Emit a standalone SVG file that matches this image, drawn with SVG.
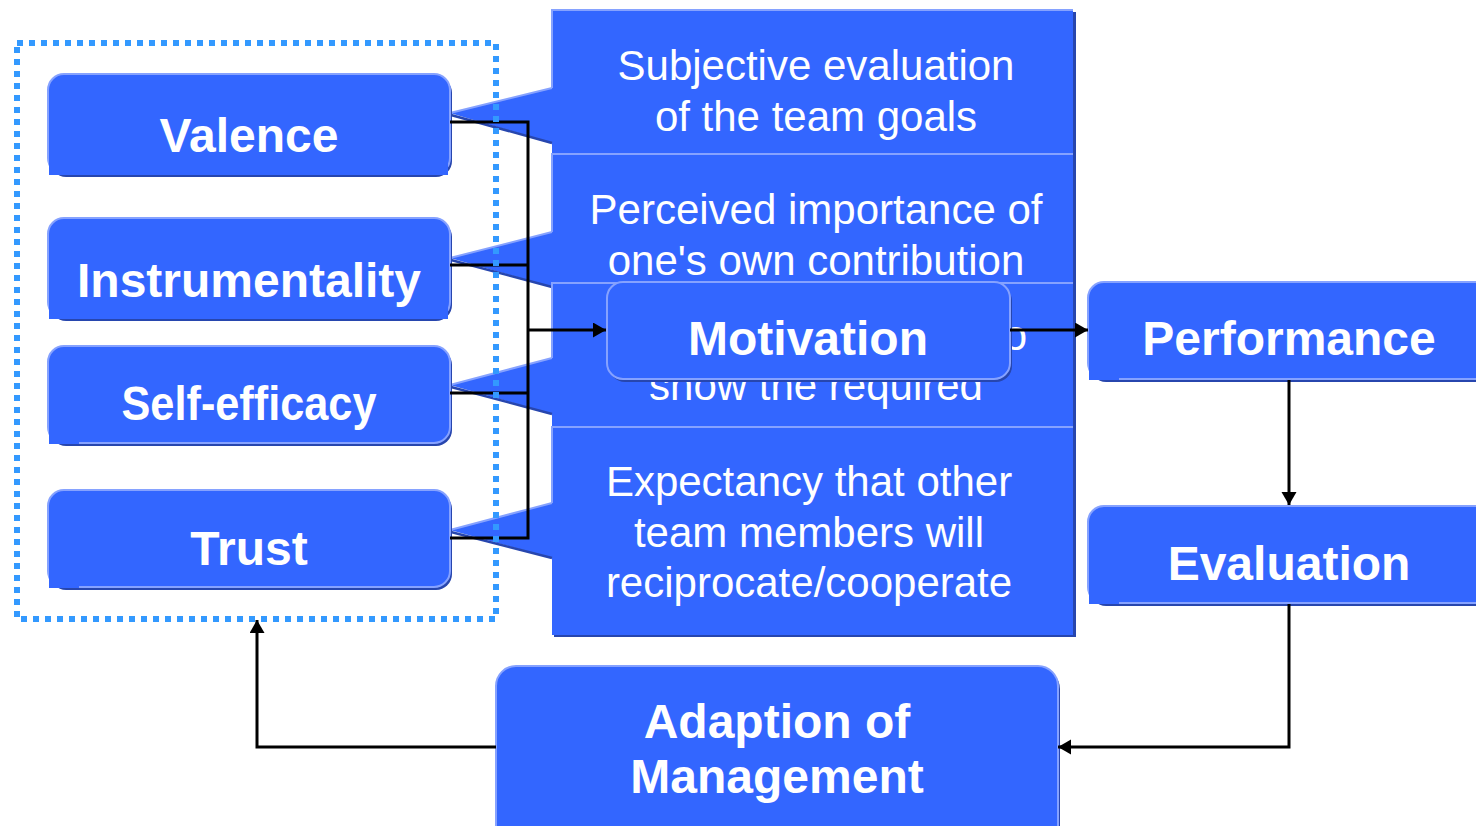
<svg xmlns="http://www.w3.org/2000/svg" width="1476" height="826" viewBox="0 0 1476 826">
<defs>
<style>
.box{fill:#3366ff;stroke:#86a2ff;stroke-width:2}
.sh{fill:#2746ae}
.patch{fill:#3366ff}
.lbl{font-family:"Liberation Sans",Arial,sans-serif;font-weight:bold;font-size:48px;fill:#fff;text-anchor:middle}
.ct{font-family:"Liberation Sans",Arial,sans-serif;font-size:42px;fill:#fff;text-anchor:middle}
.conn{stroke:#000;stroke-width:3;fill:none}
.lt{stroke:#86a2ff;stroke-width:2;fill:none}
.dk{stroke:#2746ae;stroke-width:2.5;fill:none}
.cbody{fill:#3366ff}
.dots{fill:none;stroke:#3399ff;stroke-width:6;stroke-dasharray:6 6}
</style>
<marker id="ah" markerUnits="userSpaceOnUse" markerWidth="14" markerHeight="16" refX="13" refY="7.5" orient="auto">
<path d="M0,0 L13,7.5 L0,15 Z" fill="#000"/>
</marker>
</defs>
<rect width="1476" height="826" fill="#fff"/>

<g id="callout-1">
<path class="sh" d="M554,12 H1076 V221 H554 Z"/>
<path class="cbody" d="M552,10 H1073 V219 H552 V143 L450,113 L552,88 Z"/>
<path class="lt" d="M552,88 L450,113 M552,88 V10 H1073"/>
<path class="dk" d="M451,115 L552,143"/>
<text class="ct" x="816" y="80">Subjective evaluation</text>
<text class="ct" x="816" y="131">of the team goals</text>
</g>
<g id="callout-2">
<path class="sh" d="M554,155 H1076 V364 H554 Z"/>
<path class="cbody" d="M552,153 H1073 V362 H552 V287 L450,258 L552,232 Z"/>
<path class="lt" d="M552,232 L450,258 M552,232 V154 H1073"/>
<path class="dk" d="M451,260 L552,287"/>
<text class="ct" x="816" y="224">Perceived importance of</text>
<text class="ct" x="816" y="275">one's own contribution</text>
</g>
<g id="callout-3">
<path class="sh" d="M554,284 H1076 V493 H554 Z"/>
<path class="cbody" d="M552,282 H1073 V491 H552 V414 L450,385 L552,358 Z"/>
<path class="lt" d="M552,358 L450,385 M552,358 V283 H1073"/>
<path class="dk" d="M451,387 L552,414"/>
<text class="ct" x="1027" y="350" style="text-anchor:end">o</text>
<text class="ct" x="816" y="400">show the required</text>
</g>
<g id="callout-4">
<path class="sh" d="M554,428 H1076 V637 H554 Z"/>
<path class="cbody" d="M552,426 H1073 V635 H552 V558 L450,530 L552,503 Z"/>
<path class="lt" d="M552,503 L450,530 M552,503 V427 H1073"/>
<path class="dk" d="M451,532 L552,558"/>
<text class="ct" x="809" y="496">Expectancy that other</text>
<text class="ct" x="809" y="547">team members will</text>
<text class="ct" x="809" y="597">reciprocate/cooperate</text>
</g>

<g id="valence">
<rect class="sh" x="50" y="77" width="402" height="100" rx="16"/>
<rect class="box" x="48" y="74" width="402" height="100" rx="16"/>
<rect class="patch" x="49" y="150" width="399" height="25"/>
<text class="lbl" x="249" y="152">Valence</text>
</g>
<g id="instrumentality">
<rect class="sh" x="50" y="221" width="402" height="100" rx="16"/>
<rect class="box" x="48" y="218" width="402" height="100" rx="16"/>
<rect class="patch" x="49" y="294" width="399" height="25"/>
<text class="lbl" x="249" y="297">Instrumentality</text>
</g>
<g id="self-efficacy">
<rect class="sh" x="50" y="349" width="402" height="97" rx="16"/>
<rect class="box" x="48" y="346" width="402" height="97" rx="16"/>
<rect class="patch" x="49" y="420" width="30" height="24"/>
<text class="lbl" x="249" y="420" textLength="255" lengthAdjust="spacingAndGlyphs">Self-efficacy</text>
</g>
<g id="trust">
<rect class="sh" x="50" y="493" width="402" height="97" rx="16"/>
<rect class="box" x="48" y="490" width="402" height="97" rx="16"/>
<rect class="patch" x="49" y="564" width="30" height="24"/>
<text class="lbl" x="249" y="565">Trust</text>
</g>
<g id="motivation">
<rect class="sh" x="609" y="285" width="403" height="97" rx="16"/>
<rect class="box" x="607" y="282" width="403" height="97" rx="16"/>
<text class="lbl" x="808" y="355">Motivation</text>
</g>
<g id="performance">
<rect class="sh" x="1090" y="285" width="420" height="97" rx="16"/>
<rect class="box" x="1088" y="282" width="420" height="97" rx="16"/>
<rect class="patch" x="1089" y="356" width="30" height="24"/>
<text class="lbl" x="1289" y="355">Performance</text>
</g>
<g id="evaluation">
<rect class="sh" x="1090" y="509" width="420" height="97" rx="16"/>
<rect class="box" x="1088" y="506" width="420" height="97" rx="16"/>
<rect class="patch" x="1089" y="580" width="30" height="24"/>
<text class="lbl" x="1289" y="580">Evaluation</text>
</g>
<g id="adaption">
<rect class="sh" x="498" y="669" width="562" height="180" rx="20"/>
<rect class="box" x="496" y="666" width="562" height="180" rx="20"/>
<text class="lbl" x="777" y="738">Adaption of</text>
<text class="lbl" x="777" y="793">Management</text>
</g>

<g id="connectors">
<path class="conn" d="M450,122 H528 M450,265 H528 M450,393 H528 M450,538 H528 M528,120.5 V539.5"/>
<path class="conn" d="M528,330 H606" marker-end="url(#ah)"/>
<path class="conn" d="M1010,330 H1088" marker-end="url(#ah)"/>
<path class="conn" d="M1289,380 V505" marker-end="url(#ah)"/>
<path class="conn" d="M1289,604 V747 H1058" marker-end="url(#ah)"/>
<path class="conn" d="M496,747 H257 V620" marker-end="url(#ah)"/>
</g>

<g id="group-frame">
<rect class="dots" x="17" y="43" width="479" height="576"/>
</g>
</svg>
